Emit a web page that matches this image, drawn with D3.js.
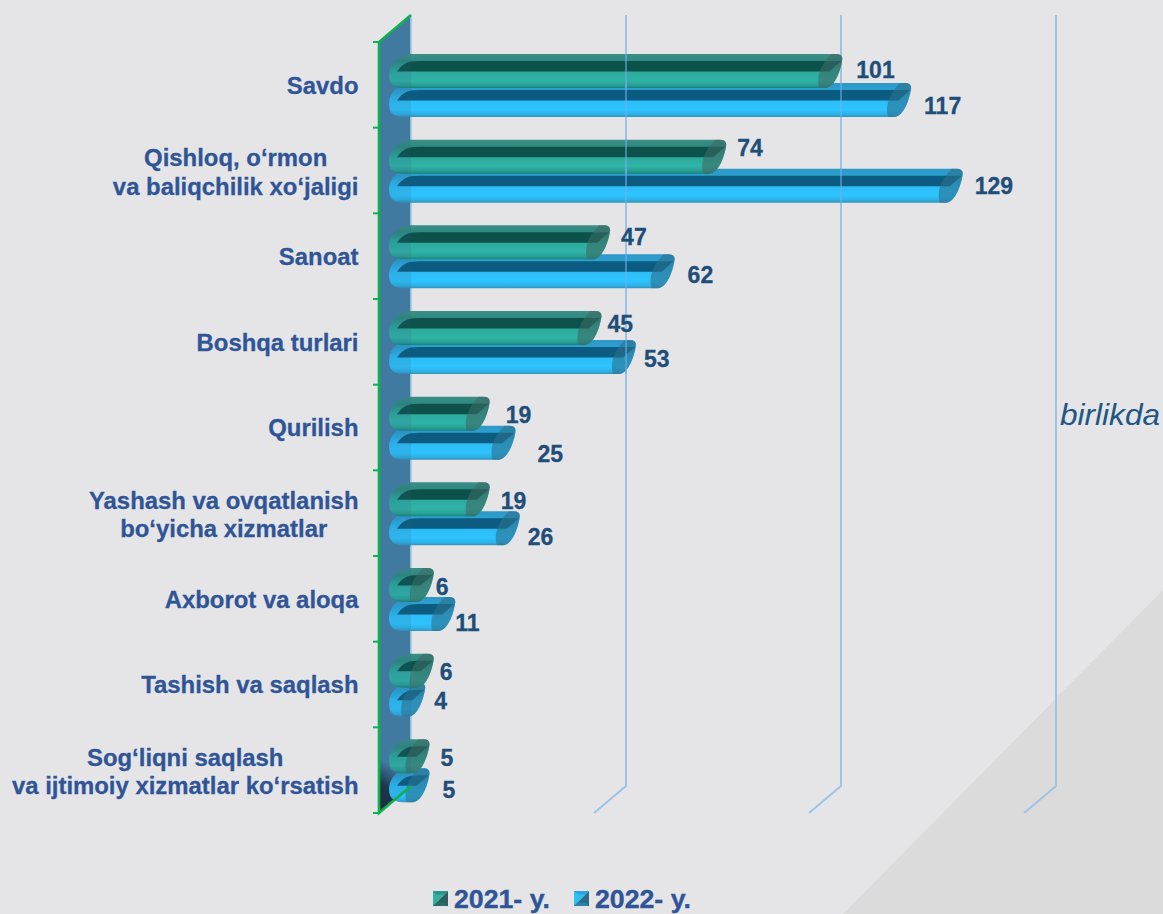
<!DOCTYPE html>
<html><head><meta charset="utf-8">
<script src="https://cdn.jsdelivr.net/npm/d3@7/dist/d3.min.js"></script>
<style>html,body{margin:0;padding:0;background:#e5e5e7}svg{display:block}text{font-family:"Liberation Sans",Arial,sans-serif}</style>
</head><body><svg id="c" width="1163" height="914"></svg>
<script>
const categories=[["Savdo"],["Qishloq, o‘rmon","va baliqchilik xo‘jaligi"],["Sanoat"],["Boshqa turlari"],["Qurilish"],["Yashash va ovqatlanish","bo‘yicha xizmatlar"],["Axborot va aloqa"],["Tashish va saqlash"],["Sog‘liqni saqlash","va ijtimoiy xizmatlar ko‘rsatish"]];
const values2021=[101,74,47,45,19,19,6,6,5];
const values2022=[117,129,62,53,25,26,11,4,5];
const gridValues=[0,50,100,150];
const seriesNames=["2021- y.","2022- y."];
// layout nudges for the hand-placed value labels
const nudge2021=[[14,-1],[11,-9],[11,-5],[6,-4],[16,1],[11,2],[2,2],[6,1],[11,2]];
const nudge2022=[[13,6],[12,0],[13,4],[8,2],[22,11],[8,9],[0,9],[9,1],[13,5]];

const W=1163,H=914,depthX=32,depthY=27,yTop=42,yBottom=813,blue="#2f5597",navy="#1f4e79";
const svg=d3.select("#c");
const x=d3.scaleLinear().domain([0,150]).range([379,1024]);
const y=d3.scaleBand().domain(d3.range(categories.length)).range([yTop,yBottom]);
const barH=34,offs=[12,41];
const defs=svg.append("defs");
function grad(id,stops){const g=defs.append("linearGradient").attr("id",id).attr("x1",0).attr("y1",0).attr("x2",0).attr("y2",1);
 stops.forEach(s=>g.append("stop").attr("offset",s[0]).attr("stop-color",s[1]));}
grad("g0",[[0,"#3c8e86"],[.22,"#2c8a80"],[.5,"#2caa9d"],[.78,"#30b3a7"],[.92,"#28a094"],[1,"#17827a"]]);
grad("g1",[[0,"#2f98c6"],[.22,"#2aa0d2"],[.5,"#2cbcf6"],[.78,"#2ec4ff"],[.92,"#2cb2e8"],[1,"#3890b4"]]);
const wd=defs.append("linearGradient").attr("id","wallDark").attr("gradientUnits","userSpaceOnUse").attr("x1",380).attr("y1",808).attr("x2",402).attr("y2",772);
wd.append("stop").attr("offset",0).attr("stop-color","#1a2634").attr("stop-opacity",1);
wd.append("stop").attr("offset",.5).attr("stop-color","#1a2634").attr("stop-opacity",.9);
wd.append("stop").attr("offset",1).attr("stop-color","#1a2634").attr("stop-opacity",0);

svg.append("rect").attr("width",W).attr("height",H).attr("fill","#e5e5e7");
svg.append("path").attr("d",`M843,${H}L${W},590V${H}Z`).attr("fill","#dbdbdb");

// wall
const wallPath=`M${x(0)},${yTop}L${x(0)+depthX},${yTop-depthY}V${yBottom-depthY}L${x(0)},${yBottom}Z`;
svg.append("path").attr("d",wallPath).attr("fill","#447fa6");
svg.append("path").attr("d",`M${x(0)},${yBottom}V${yBottom-55}H${x(0)+depthX}V${yBottom-depthY}Z`).attr("fill","url(#wallDark)");
svg.append("line").attr("x1",x(0)+depthX).attr("x2",x(0)+depthX).attr("y1",yTop-depthY).attr("y2",yBottom-depthY).attr("stroke","#a9cfe0").attr("stroke-width",2);

// gridlines
svg.append("g").attr("fill","none").attr("stroke","#9dc3e6").attr("stroke-width",2)
 .selectAll("path").data(gridValues.slice(1)).join("path")
 .attr("d",v=>`M${x(v)+depthX},${yTop-depthY}V${yBottom-depthY}L${x(v)},${yBottom}`);

// bars
function tip(v){return x(v)+depthX-3;}
function rightEdge(e,t,b){return `L${e-6},${t}Q${e},${t} ${e},${t+5}C${e-1},${t+14} ${e-7},${b} ${e-17},${b}`;}
function bodyPath(v,t){const e=tip(v),b=t+barH,l=x(0)+10;
 return `M${l+24},${t}${rightEdge(e,t,b)}L${l+14},${b}C${l+4},${b} ${l},${b-5} ${l},${b-13}C${l},${t+9} ${l+10},${t} ${l+24},${t}Z`;}
function capPath(v,t){const e=tip(v),b=t+barH;
 return `M${e-11},${t}${rightEdge(e,t,b)}L${e-23},${b}C${e-26},${b-10} ${e-23},${t+12} ${e-11},${t}Z`;}
function slotPath(v,t){const e=tip(v),l=x(0)+18,a=t+7,c=t+17.5;
 return `M${l},${c}C${l+5},${a+3} ${l+10},${a} ${l+22},${a}L${e-1},${a}L${e-13},${c}Z`;}
const rows=[{vals:values2022,i:1,fill:"url(#g1)",slot:"#0b5c80",cap:"#2c6f8e",nudge:nudge2022},{vals:values2021,i:0,fill:"url(#g0)",slot:"#0c524b",cap:"#3c6a66",nudge:nudge2021}];
const barsG=svg.append("g");
categories.forEach((_,k)=>{rows.forEach(r=>{
 const v=r.vals[k],t=y(k)+offs[r.i],g=barsG.append("g");
 g.append("path").attr("d",bodyPath(v,t)).attr("fill",r.fill);
 g.append("path").attr("d",slotPath(v,t)).attr("fill",r.slot);
 g.append("path").attr("d",capPath(v,t)).attr("fill",r.cap).attr("fill-opacity",.6);
});});
// translucent wall and gridline segments over the bars
svg.append("path").attr("d",wallPath).attr("fill","#2f5f86").attr("fill-opacity",.14);
const crossings=[];
rows.forEach(r=>r.vals.forEach((v,k)=>gridValues.slice(1).forEach(g=>{if(tip(v)-6>x(g)+depthX)crossings.push({g,t:y(k)+offs[r.i]});})));
svg.append("g").attr("stroke","#6fb0ec").attr("stroke-opacity",.55).attr("stroke-width",2)
 .selectAll("line").data(crossings).join("line")
 .attr("x1",d=>x(d.g)+depthX).attr("x2",d=>x(d.g)+depthX).attr("y1",d=>d.t).attr("y2",d=>d.t+barH);

// green axis
const ag=svg.append("g").attr("stroke","#0fb050").attr("fill","none");
ag.append("path").attr("stroke-width",2.6).attr("d",`M${x(0)+depthX},${yTop-depthY}L${x(0)},${yTop}V${yBottom}L${x(0)+depthX},${yBottom-depthY}`);
const tickPos=d3.range(categories.length).map(i=>y(i)).concat([yBottom]);
ag.selectAll("line").data(tickPos).join("line").attr("x1",x(0)-6).attr("x2",x(0)).attr("y1",d=>d).attr("y2",d=>d).attr("stroke-width",2);

// category labels
const lineH=28.5;
categories.forEach((lines,k)=>{
 const cy=y(k)+y.bandwidth()/2+(lines.length>1?1.5-lineH/2:0.4);
 const t=svg.append("g").attr("fill",blue).attr("stroke",blue).attr("stroke-width",.3).attr("font-weight",700).attr("font-size",23.9);
 if(lines.length===1){t.append("text").attr("x",358.5).attr("y",cy).attr("dy","0.35em").attr("text-anchor","end").text(lines[0]);}
 else{
  const maxW=Math.max(...lines.map(s=>{const n=t.append("text").text(s);const w=n.node().getComputedTextLength();n.remove();return w;}));
  const mx=358.5-maxW/2;
  lines.forEach((s,j)=>t.append("text").attr("x",mx).attr("y",cy+j*lineH).attr("dy","0.35em").attr("text-anchor","middle").text(s));
 }
});

// value labels
rows.forEach(r=>{
 svg.append("g").selectAll("text").data(r.vals).join("text")
  .attr("x",(v,k)=>tip(v)+r.nudge[k][0])
  .attr("y",(v,k)=>y(k)+offs[r.i]+barH/2+r.nudge[k][1])
  .attr("dy","0.35em").attr("fill",navy).attr("stroke",navy).attr("stroke-width",.3).attr("font-weight",700).attr("font-size",23).text(v=>v);
});

svg.append("text").attr("x",1060).attr("y",414).attr("dy","0.35em").attr("fill","#215684").attr("font-style","italic").attr("font-size",30).attr("textLength",100).attr("lengthAdjust","spacingAndGlyphs").text("birlikda");

// legend
const lg=[{name:seriesNames[0],sx:433,c:["#33b0a3","#2a9488","#2f5f5c","#276d66"]},{name:seriesNames[1],sx:574,c:["#2cc0f5","#2aa5dc","#2c6a88","#2a83a8"]}];
lg.forEach(d=>{
 const s=15,a=d.sx,b=891,m=3.5;
 const tris=[`M${a},${b}L${a+s},${b}L${a+s-m},${b+m}L${a+m},${b+m}Z`,`M${a},${b+s}L${a+s},${b+s}L${a+s-m},${b+s-m}L${a+m},${b+s-m}Z`];
 svg.append("path").attr("d",`M${a},${b}L${a+s},${b}L${a},${b+s}Z`).attr("fill",d.c[0]);
 svg.append("path").attr("d",`M${a+s},${b}L${a+s},${b+s}L${a},${b+s}Z`).attr("fill",d.c[2]);
 svg.append("path").attr("d",tris[0]).attr("fill",d.c[1]);
 svg.append("path").attr("d",tris[1]).attr("fill",d.c[3]);
 svg.append("text").attr("x",a+21).attr("y",b+7.5).attr("dy","0.35em").attr("fill",blue).attr("stroke",blue).attr("stroke-width",.4).attr("font-weight",700).attr("font-size",26.7).text(d.name);
});
</script></body></html>
